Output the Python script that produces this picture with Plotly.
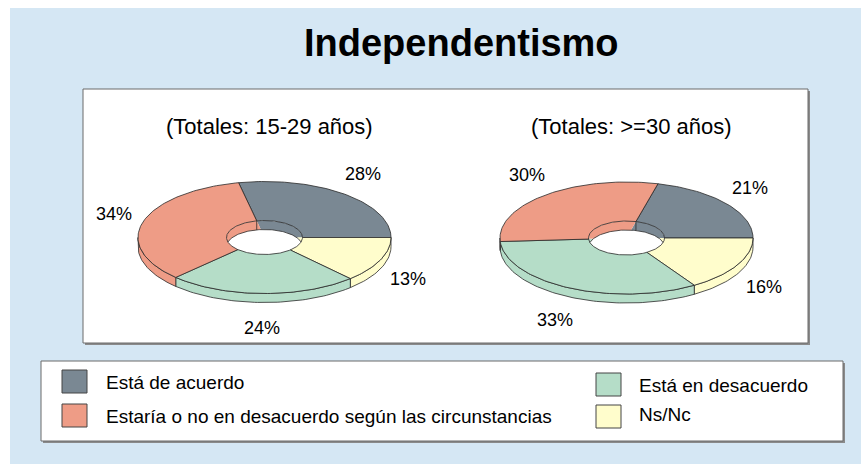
import numpy as np
import plotly.graph_objects as go

# ---------------- data ----------------
title_text = "Independentismo"
categories = ["Está de acuerdo", "Ns/Nc", "Está en desacuerdo",
              "Estaría o no en desacuerdo según las circunstancias"]
young_values = [28, 13, 24, 34]   # 15-29 años (clockwise order)
adult_values = [21, 16, 33, 30]   # >=30 años
pie_titles = ["(Totales: 15-29 años)", "(Totales: >=30 años)"]
slice_colors = ["#7a8893", "#fffdcc", "#b5ddc8", "#ee9c86"]
legend_order = [0, 3, 2, 1]

W, H = 861, 464
FONT = "Liberation Sans, Arial, sans-serif"
LINE = "#2a2a2a"

fig = go.Figure()

RX, RY, HX, HY, DEPTH = 126.5, 56, 38, 17, 9


def pts(cx, cy, rx, ry, a0, a1, dy=0.0):
    n = max(3, int(abs(a1 - a0) / 1.5) + 2)
    t = np.radians(np.linspace(a0, a1, n))
    return cx + rx * np.cos(t), cy - ry * np.sin(t) + dy


def add_poly(x, y, fill, line=True):
    fig.add_trace(go.Scatter(
        x=list(x) + [x[0]], y=list(y) + [y[0]], mode="lines", fill="toself",
        fillcolor=fill, line=dict(color=LINE if line else fill, width=0.8 if line else 0),
        hoverinfo="skip", showlegend=False))


def add_line(x, y):
    fig.add_trace(go.Scatter(x=list(x), y=list(y), mode="lines",
                             line=dict(color=LINE, width=0.8),
                             hoverinfo="skip", showlegend=False))


def draw_pie(values, cx, cy):
    total = float(sum(values))
    fr = np.array(values) / total
    start = 360 * fr[0]
    bounds = start - 360 * np.concatenate([[0], np.cumsum(fr)])
    slices = [(bounds[i], bounds[i + 1]) for i in range(len(values))]
    # outer side walls (front half)
    for i, (a0, a1) in enumerate(slices):
        for lo, hi in [(-180, 0), (180, 360), (-540, -360)]:
            s, e = min(a0, hi), max(a1, lo)
            if s > e:
                xt, yt = pts(cx, cy, RX, RY, s, e)
                xb, yb = pts(cx, cy, RX, RY, e, s, DEPTH)
                add_poly(np.concatenate([xt, xb]), np.concatenate([yt, yb]), slice_colors[i])
    # inner hole wall (coloured sectors), then see-through part
    for i, (a0, a1) in enumerate(slices):
        xt, yt = pts(cx, cy, HX, HY, a0, a1)
        add_poly(np.concatenate([[cx], xt]), np.concatenate([[cy], yt]), slice_colors[i], line=False)
    xb, yb = pts(cx, cy, HX, HY, 0, 360, DEPTH)
    add_poly(xb, yb, "white", line=False)
    # top faces
    for i, (a0, a1) in enumerate(slices):
        xo, yo = pts(cx, cy, RX, RY, a0, a1)
        xi, yi = pts(cx, cy, HX, HY, a1, a0)
        add_poly(np.concatenate([xo, xi]), np.concatenate([yo, yi]), slice_colors[i])
    # hole bottom edge + inner boundary lines
    ang = np.degrees(np.arcsin(DEPTH / (2 * HY)))
    xe, ye = pts(cx, cy, HX, HY, ang, 180 - ang, DEPTH)
    add_line(xe, ye)
    for b in bounds[:-1]:
        if np.sin(np.radians(b)) > np.sin(np.radians(ang)):
            x0 = cx + HX * np.cos(np.radians(b))
            y0 = cy - HY * np.sin(np.radians(b))
            add_line([x0, x0], [y0, y0 + DEPTH])
    # percentage labels
    for i, (a0, a1) in enumerate(slices):
        m = np.radians((a0 + a1) / 2)
        lx = cx + (RX + 30) * np.cos(m)
        ly = cy - (RY + 26) * np.sin(m) + (DEPTH if np.sin(m) < 0 else 0)
        fig.add_annotation(x=lx, y=ly, text=f"{values[i]}%", showarrow=False,
                           font=dict(family=FONT, size=18, color="black"))


shapes = [
    dict(type="rect", x0=10, y0=8, x1=W + 2, y1=H + 2, fillcolor="#d5e7f4", line=dict(width=0), layer="below"),
    dict(type="rect", x0=85, y0=91, x1=810, y1=345, fillcolor="#8a8a8a", line=dict(width=0), layer="below"),
    dict(type="rect", x0=83, y0=89, x1=808, y1=343, fillcolor="white", line=dict(color="#6a6a6a", width=1), layer="below"),
    dict(type="rect", x0=43, y0=363, x1=845, y1=443, fillcolor="#8a8a8a", line=dict(width=0), layer="below"),
    dict(type="rect", x0=41, y0=361, x1=843, y1=441, fillcolor="white", line=dict(color="#6a6a6a", width=1), layer="below"),
]

centers = [(264.5, 237.5), (626.5, 238)]
for vals, (cx, cy), t in zip([young_values, adult_values], centers, pie_titles):
    draw_pie(vals, cx, cy)
    fig.add_annotation(x=cx + 5, y=126, text=t, showarrow=False,
                       font=dict(family=FONT, size=22, color="black"))

fig.add_annotation(x=461, y=43, text=f"<b>{title_text}</b>", showarrow=False,
                   font=dict(family=FONT, size=38, color="black"))

# legend
legend_slots = [(62, 370, 104, 382), (62, 404, 104, 416), (596, 373, 637, 385), (596, 405, 637, 414)]
for k, (sx, sy, tx, ty) in zip(legend_order, legend_slots):
    shapes.append(dict(type="rect", x0=sx, y0=sy, x1=sx + 25, y1=sy + 23,
                       fillcolor=slice_colors[k], line=dict(color="#444", width=1)))
    fig.add_annotation(x=tx, y=ty, text=categories[k], showarrow=False, xanchor="left",
                       font=dict(family=FONT, size=19, color="black"))

fig.update_layout(
    width=W, height=H, margin=dict(l=0, r=0, t=0, b=0),
    paper_bgcolor="white", plot_bgcolor="rgba(0,0,0,0)",
    xaxis=dict(range=[0, W], visible=False, fixedrange=True),
    yaxis=dict(range=[H, 0], visible=False, fixedrange=True),
    shapes=shapes, showlegend=False,
)

fig.write_html("out.html", config={"displayModeBar": False},
               post_script="document.body.style.margin='0';document.body.style.overflow='hidden';")
